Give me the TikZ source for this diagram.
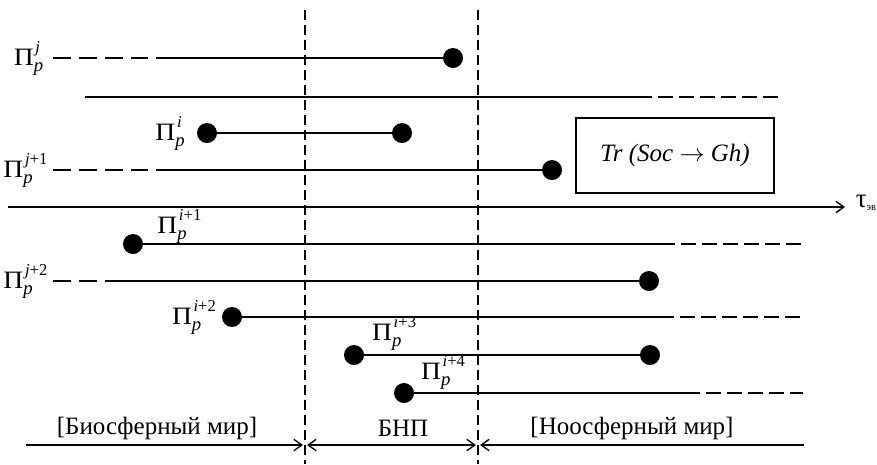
\documentclass[tikz,border=0pt]{standalone}
\usepackage{amsmath}
\usepackage{graphicx}
\usepackage{fontspec}
\setmainfont{Liberation Serif}
\usetikzlibrary{arrows.meta,positioning}
\newcommand{\Pp}[1]{$\text{\fontsize{12}{12}\selectfont\scalebox{1.1}[1]{Π}}^{\raisebox{1pt}{\fontsize{8}{8}\selectfont\kern0.8pt #1}}_{\mbox{\fontsize{9}{9}\selectfont\itshape p}}$}
\tikzset{
  dot/.style={circle,fill,inner sep=0pt,minimum size=9.6pt},
  track/.style={line width=0.65pt},
  lead/.style={track,dash pattern=on 8.6pt off 3.8pt},
  fade/.style={track,dash pattern=on 7.2pt off 2.9pt,dash phase=7.2pt},
  border/.style={line width=0.75pt,dash pattern=on 4.8pt off 2.4pt},
  plabel/.style={inner sep=1pt,font=\fontsize{10.5}{12}\selectfont},
  span/.style={line width=0.65pt,shorten >=1pt,shorten <=1pt}
}

\begin{document}
\begin{tikzpicture}[x=0.48pt,y=-0.48pt,font=\fontsize{12}{14}\selectfont,
    >={Straight Barb[length=3.8pt,width=5.5pt]}]
  \useasboundingbox (0,0) rectangle (877,464);
  % world borders
  \draw[border] (305,10) -- (305,464);
  \draw[border] (478,10) -- (478,464);
  % row j
  \coordinate (js) at (53,58);
  \coordinate (jm) at (157,58);
  \node[dot] (je) at (453,58) {};
  \node[plabel,left=3pt of js] (jlab) {\Pp{\itshape j}};
  \draw[lead] (js) -- (jm);
  \draw[track] (jm) -- (je);
  % open line
  \coordinate (os) at (85,97);
  \coordinate (om) at (652,97);
  \coordinate (oe) at (778,97);
  \draw[track] (os) -- (om);
  \draw[fade] (om) -- (oe);
  % row i
  \node[dot] (is) at (207,133) {};
  \node[dot] (ie) at (402,133) {};
  \node[plabel,left=4pt of is] (ilab) {\Pp{\itshape i}};
  \draw[track] (is) -- (ie);
  % row j+1
  \coordinate (j1s) at (53,170);
  \coordinate (j1m) at (157,170);
  \node[dot] (j1e) at (552,170) {};
  \node[plabel,left=1pt of j1s] (j1lab) {\Pp{{\itshape j}+1}};
  \draw[lead] (j1s) -- (j1m);
  \draw[track] (j1m) -- (j1e);
  % transition box
  \node[draw,line width=0.8pt,minimum width=95pt,minimum height=36pt] (trans)
    at (675,155.5) {\textit{Tr (Soc} $\rightarrow$ \textit{Gh)}};
  % time axis
  \coordinate (ts) at (8,207);
  \coordinate (te) at (845,207);
  \draw[track,->] (ts) -- (te);
  \node[inner sep=0pt,anchor=west] (tau) at ([xshift=5pt,yshift=2pt]te)
    {\fontsize{13}{13}\selectfont τ\textsubscript{\tiny эв}};
  % row i+1
  \node[dot] (i1s) at (133,244) {};
  \coordinate (i1m) at (675,244);
  \coordinate (i1e) at (803,244);
  \node[plabel,above right=-4.3pt and 7pt of i1s] (i1lab) {\Pp{{\itshape i}+1}};
  \draw[track] (i1s) -- (i1m);
  \draw[fade] (i1m) -- (i1e);
  % row j+2
  \coordinate (j2s) at (53,281);
  \coordinate (j2m) at (107,281);
  \node[dot] (j2e) at (649,281) {};
  \node[plabel,left=1pt of j2s] (j2lab) {\Pp{{\itshape j}+2}};
  \draw[lead] (j2s) -- (j2m);
  \draw[track] (j2m) -- (j2e);
  % row i+2
  \node[dot] (i2s) at (232,317) {};
  \coordinate (i2m) at (674,317);
  \coordinate (i2e) at (802,317);
  \node[plabel,left=1pt of i2s] (i2lab) {\Pp{{\itshape i}+2}};
  \draw[track] (i2s) -- (i2m);
  \draw[fade] (i2m) -- (i2e);
  % row i+3
  \node[dot] (i3s) at (354,355) {};
  \node[dot] (i3e) at (650,355) {};
  \node[plabel,above right=-2.5pt and 4pt of i3s] (i3lab) {\Pp{{\itshape i}+3}};
  \draw[track] (i3s) -- (i3e);
  % row i+4
  \node[dot] (i4s) at (404,393) {};
  \coordinate (i4m) at (700,393);
  \coordinate (i4e) at (803,393);
  \node[plabel,above right=-3pt and 3.5pt of i4s] (i4lab) {\Pp{{\itshape i}+4}};
  \draw[track] (i4s) -- (i4m);
  \draw[fade] (i4m) -- (i4e);
  % periods
  \coordinate (bs) at (24,445);
  \coordinate (b1) at (305,445);
  \coordinate (b2) at (478,445);
  \coordinate (be) at (806,445);
  \draw[span,->] (bs) -- (b1);
  \draw[span,<->] (b1) -- (b2);
  \draw[span,<-] (b2) -- (be);
  \node (bio) at (157,428) {[Биосферный мир]};
  \node (bnp) at (403,428) {БНП};
  \node (noo) at (632,428) {[Ноосферный мир]};
\end{tikzpicture}
\end{document}
